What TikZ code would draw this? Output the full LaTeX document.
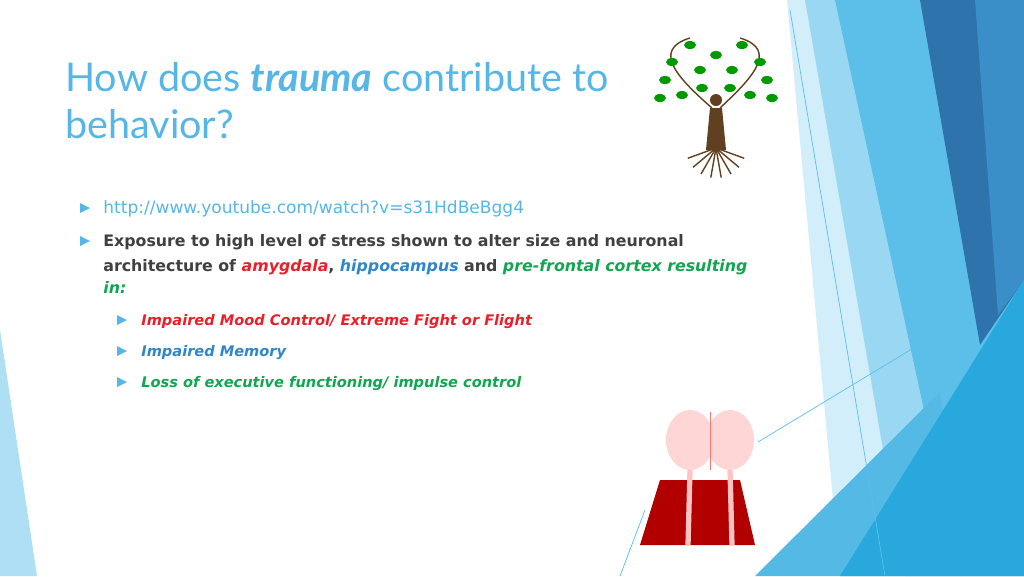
\documentclass[tikz,border=0pt]{standalone}
\usepackage{fontspec}
\setmainfont{DejaVu Sans}
\newfontfamily\titlefont{Lato}
\usetikzlibrary{positioning}
\definecolor{slideblue}{HTML}{56B7E6}
\definecolor{darkblue}{HTML}{2F73AC}
\definecolor{midblue}{HTML}{3A8FC9}
\definecolor{brightblue}{HTML}{29A8DE}
\definecolor{skyblue}{HTML}{5CBFE9}
\definecolor{paleblue}{HTML}{9AD7F2}
\definecolor{iceblue}{HTML}{D2EEFA}
\definecolor{amygred}{HTML}{E8202A}
\definecolor{hippoblue}{HTML}{2F86C8}
\definecolor{pfcgreen}{HTML}{12A650}
\definecolor{bodygray}{HTML}{404040}
\tikzset{
    x=0.02cm, y=-0.02cm,
    title/.style = {anchor=base west, inner sep=0pt, font=\titlefont\fontsize{22.5}{27}\selectfont, text=slideblue},
    bodytext/.style = {anchor=base west, inner sep=0pt, font=\fontsize{9}{11}\selectfont\bfseries, text=bodygray},
    subtext/.style = {anchor=base west, inner sep=0pt, font=\fontsize{8.3}{10}\selectfont\bfseries\itshape},
    bullet/.style = {fill=slideblue, draw=none},
}
\newcommand{\tri}[2]{\fill[bullet] (#1,#2-5) -- (#1+10,#2) -- (#1,#2+5) -- cycle;}
\begin{document}
\begin{tikzpicture}
    \useasboundingbox (0,0) rectangle (1024,576);
    \fill[white] (0,0) rectangle (1024,576);

    % right hand facets
    \fill[iceblue] (787,0) -- (1024,0) -- (1024,576) -- (840,576) -- cycle;
    \fill[paleblue] (805,0) -- (1024,0) -- (1024,576) -- (905,576) -- cycle;
    \fill[skyblue] (835,0) -- (1024,0) -- (1024,576) -- (960,576) -- cycle;
    \fill[darkblue] (920,0) -- (1024,0) -- (1024,280) -- (980,345) -- cycle;
    \fill[midblue] (975,0) -- (1024,0) -- (1024,280) -- (998,315) -- cycle;
    \fill[brightblue!80!white] (755,576) -- (940,392) -- (960,576) -- cycle;
    \fill[brightblue] (840,576) -- (1024,280) -- (1024,576) -- cycle;
    \draw[skyblue, thin] (790,10) -- (885,576);
    \draw[skyblue, thin] (758,442) -- (930,338);
    \draw[skyblue, thin] (645,510) -- (620,576);
    % left wedge
    \fill[paleblue!80!white] (0,330) -- (37,576) -- (0,576) -- cycle;

    % title
    \node[title] (t1) at (65,91) {How does \textbf{\itshape trauma} contribute to};
    \node[title] (t2) at (65,138) {behavior?};

    % bullets
    \tri{80}{208}
    \node[bodytext, font=\fontsize{9.7}{11}\selectfont, text=slideblue] (link) at (103,213) {http://www.youtube.com/watch?v=s31HdBeBgg4};
    \tri{80}{241}
    \node[bodytext] (l1) at (103,246) {Exposure to high level of stress shown to alter size and neuronal};
    \node[bodytext] (l2) at (103,271) {architecture of \textcolor{amygred}{\itshape amygdala}, \textcolor{hippoblue}{\itshape hippocampus} and \textcolor{pfcgreen}{\itshape pre-frontal cortex resulting}};
    \node[bodytext, text=pfcgreen] (l3) at (103,293) {\itshape in:};

    \tri{117}{320}
    \node[subtext, text=amygred] (s1) at (141,325) {Impaired Mood Control/ Extreme Fight or Flight};
    \tri{117}{351}
    \node[subtext, text=hippoblue] (s2) at (141,356) {Impaired Memory};
    \tri{117}{382}
    \node[subtext, text=pfcgreen] (s3) at (141,387) {Loss of executive functioning/ impulse control};

    % tree
    \fill[brown!50!black] (716,100) circle (6);
    \fill[brown!50!black] (710,108) -- (722,108) -- (726,150) -- (706,150) -- cycle;
    \foreach \a in {200,220,240,260,280,300,320,340}
        \draw[brown!50!black, thick] (716,148) -- ++(\a:-30);
    \draw[brown!50!black, thick] (712,108) .. controls (680,80) and (650,50) .. (690,38);
    \draw[brown!50!black, thick] (720,108) .. controls (750,80) and (780,50) .. (740,38);
    \foreach \p in {(665,80),(672,62),(690,45),(700,70),(732,70),(742,45),(760,62),(767,80),(682,95),(750,95),(716,55),(660,98),(772,98),(702,88),(730,88)}
        \fill[green!60!black] \p ellipse (6 and 4);

    % brain
    \fill[red!70!black] (640,545) -- (660,480) -- (740,480) -- (755,545) -- cycle;
    \fill[pink!80!red!40] (690,440) ellipse (24 and 30);
    \fill[pink!80!red!40] (730,440) ellipse (24 and 30);
    \draw[pink!60!red] (710,412) -- (710,470);
    \draw[pink!70!red!50, line width=3pt] (690,470) -- (688,545) (730,470) -- (732,545);
\end{tikzpicture}
\end{document}
